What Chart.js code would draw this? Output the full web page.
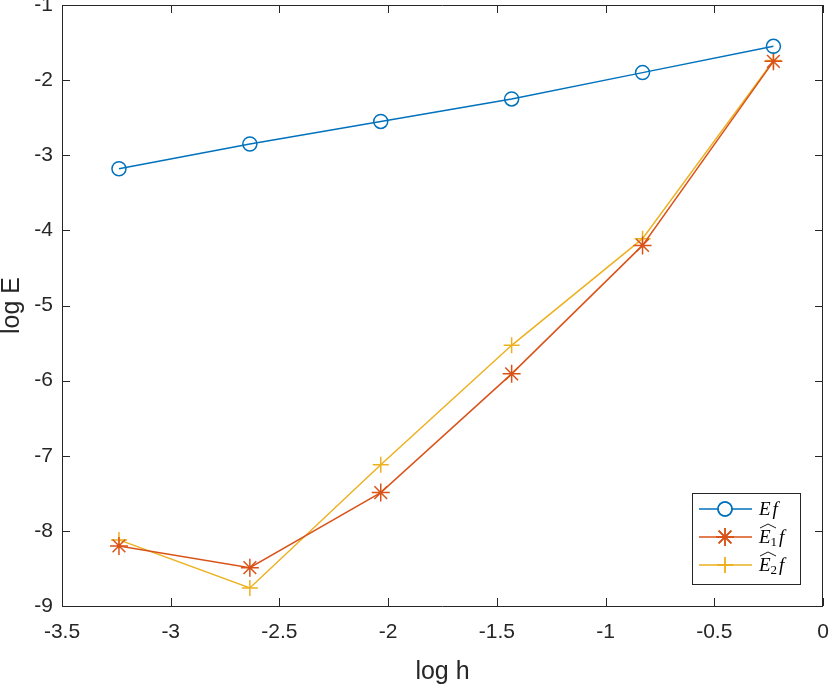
<!DOCTYPE html>
<html>
<head>
<meta charset="utf-8">
<script src="https://cdn.jsdelivr.net/npm/chart.js@4.4.1/dist/chart.umd.min.js"></script>
<style>
  html, body { margin: 0; padding: 0; background: #fff; }
  #wrap { width: 830px; height: 685px; }
</style>
</head>
<body>
<div id="wrap"><canvas id="errChart"></canvas></div>
<script>
// data
const logH = [-3.238, -2.636, -2.034, -1.432, -0.830, -0.228];
const efValues = [-3.18, -2.85, -2.55, -2.25, -1.90, -1.55];
const e1Values = [-8.20, -8.49, -7.49, -5.91, -4.20, -1.75];
const e2Values = [-8.12, -8.76, -7.12, -5.53, -4.11, -1.74];
const xTickValues = [-3.5, -3, -2.5, -2, -1.5, -1, -0.5, 0];
const yTickValues = [-9, -8, -7, -6, -5, -4, -3, -2, -1];
const seriesNames = ['Ef', 'Ê1f', 'Ê2f'];

const axisColor = '#262626';
const sansFont = "'Liberation Sans', Arial, Helvetica, sans-serif";
const mathFont = "'Liberation Serif', 'Times New Roman', serif";

function toPoints(ys) {
    return logH.map((x, i) => ({ x: x, y: ys[i] }));
}

// MATLAB style box, inward ticks and legend
const matlabAxes = {
    id: 'matlabAxes',
    afterDraw(chart) {
        const ctx = chart.ctx;
        const area = chart.chartArea;
        const xs = chart.scales.x;
        const ys = chart.scales.y;
        const tick = 8;

        ctx.save();
        ctx.strokeStyle = axisColor;
        ctx.lineWidth = 1;
        ctx.beginPath();
        ctx.rect(Math.round(area.left) + 0.5, Math.round(area.top) + 0.5,
            Math.round(area.right - area.left) - 1, Math.round(area.bottom - area.top));
        xTickValues.forEach(v => {
            const px = Math.round(xs.getPixelForValue(v)) + 0.5;
            ctx.moveTo(px, area.bottom); ctx.lineTo(px, area.bottom - tick);
            ctx.moveTo(px, area.top); ctx.lineTo(px, area.top + tick);
        });
        yTickValues.forEach(v => {
            const py = Math.round(ys.getPixelForValue(v)) + 0.5;
            ctx.moveTo(area.left, py); ctx.lineTo(area.left + tick, py);
            ctx.moveTo(area.right, py); ctx.lineTo(area.right - tick, py);
        });
        ctx.stroke();

        // legend box
        const bx = 692, by = 493, bw = 108, bh = 91;
        ctx.fillStyle = '#fff';
        ctx.fillRect(bx, by, bw, bh);
        ctx.strokeRect(bx + 0.5, by + 0.5, bw, bh);

        chart.data.datasets.forEach((ds, i) => {
            const ry = 509 + i * 28;
            ctx.strokeStyle = ds.borderColor;
            ctx.lineWidth = 1.5;
            ctx.beginPath();
            ctx.moveTo(699, ry); ctx.lineTo(752, ry);
            ctx.stroke();
            Chart.helpers.drawPoint(ctx, {
                pointStyle: ds.pointStyle,
                radius: ds.pointRadius,
                borderWidth: ds.pointBorderWidth
            }, 725, ry);
            ctx.stroke();
            drawMathLabel(ctx, seriesNames[i], 759, ry + 6);
        });
        ctx.restore();
    }
};

function drawMathLabel(ctx, name, x, baseline) {
    ctx.fillStyle = '#000';
    ctx.strokeStyle = '#000';
    ctx.textBaseline = 'alphabetic';
    ctx.textAlign = 'left';
    ctx.font = 'italic 19px ' + mathFont;
    const hat = name.charAt(0) === 'Ê';
    const sub = name.length > 2 ? name.charAt(1) : '';
    ctx.fillText('E', x, baseline);
    let cx = x + ctx.measureText('E').width;
    if (hat) {
        ctx.lineWidth = 0.9;
        ctx.beginPath();
        ctx.moveTo(x + 1, baseline - 15);
        ctx.lineTo(x + 9, baseline - 19);
        ctx.lineTo(x + 17, baseline - 15);
        ctx.stroke();
    }
    if (sub) {
        ctx.font = '13px ' + mathFont;
        ctx.fillText(sub, cx, baseline + 3);
        cx += ctx.measureText(sub).width + 2;
    } else {
        cx += 2;
    }
    ctx.font = 'italic 19px ' + mathFont;
    ctx.fillText('f', cx, baseline);
}

const chart = new Chart(document.getElementById('errChart').getContext('2d'), {
    type: 'line',
    data: {
        datasets: [
            {
                label: seriesNames[0],
                data: toPoints(efValues),
                borderColor: '#0072BD',
                backgroundColor: 'rgba(0,0,0,0)',
                pointStyle: 'circle',
                pointRadius: 7,
                pointBorderWidth: 1.5
            },
            {
                label: seriesNames[1],
                data: toPoints(e1Values),
                borderColor: '#D95319',
                backgroundColor: 'rgba(0,0,0,0)',
                pointStyle: 'star',
                pointRadius: 9,
                pointBorderWidth: 1.5
            },
            {
                label: seriesNames[2],
                data: toPoints(e2Values),
                borderColor: '#EDB120',
                backgroundColor: 'rgba(0,0,0,0)',
                pointStyle: 'cross',
                pointRadius: 8,
                pointBorderWidth: 1.5
            }
        ]
    },
    options: {
        responsive: true,
        maintainAspectRatio: false,
        animation: false,
        devicePixelRatio: 1,
        layout: { autoPadding: false, padding: { top: 5, right: 7, left: 0, bottom: 0 } },
        elements: {
            line: { borderWidth: 1.5, tension: 0 },
            point: { pointBackgroundColor: 'rgba(0,0,0,0)' }
        },
        scales: {
            x: {
                type: 'linear',
                min: -3.5,
                max: 0,
                afterBuildTicks: s => { s.ticks = xTickValues.map(v => ({ value: v })); },
                afterFit: s => { s.height = 79; s.paddingLeft = 0; s.paddingRight = 0; },
                grid: { display: false, drawTicks: false },
                border: { display: false },
                ticks: {
                    color: axisColor,
                    padding: 14,
                    maxRotation: 0,
                    callback: v => String(v),
                    font: { family: sansFont, size: 21 }
                },
                title: {
                    display: true,
                    text: 'log h',
                    color: axisColor,
                    padding: { top: 0, bottom: 0 },
                    font: { family: sansFont, size: 25, lineHeight: 1 }
                }
            },
            y: {
                min: -9,
                max: -1,
                afterBuildTicks: s => { s.ticks = yTickValues.map(v => ({ value: v })); },
                afterFit: s => { s.width = 62; s.paddingTop = 0; s.paddingBottom = 0; },
                grid: { display: false, drawTicks: false },
                border: { display: false },
                ticks: {
                    color: axisColor,
                    padding: 9,
                    callback: v => String(v),
                    font: { family: sansFont, size: 21 }
                },
                title: {
                    display: true,
                    text: 'log E',
                    color: axisColor,
                    padding: { top: 0, bottom: 0 },
                    font: { family: sansFont, size: 25, lineHeight: 1 }
                }
            }
        },
        plugins: {
            legend: { display: false },
            tooltip: { enabled: false }
        }
    },
    plugins: [matlabAxes]
});
</script>
</body>
</html>
